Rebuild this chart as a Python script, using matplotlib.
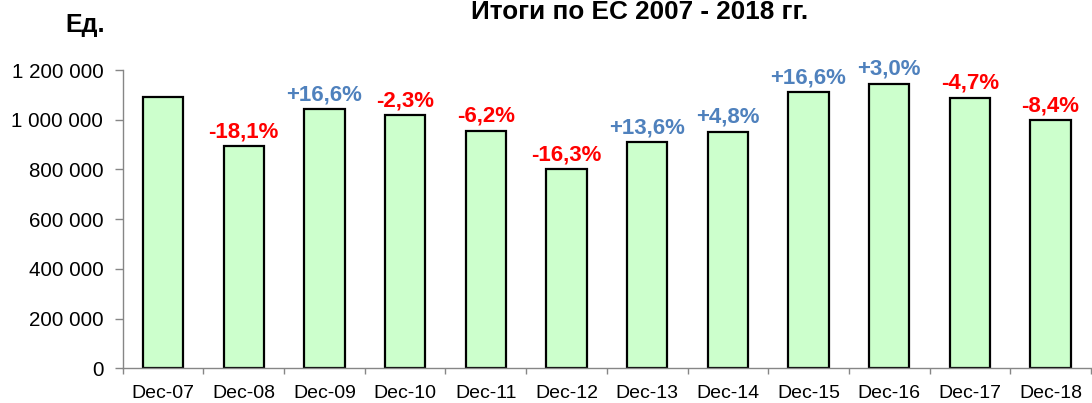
import matplotlib
matplotlib.use("Agg")
import matplotlib.pyplot as plt
from matplotlib.ticker import FuncFormatter, MultipleLocator

plt.rcParams['font.family'] = ['Liberation Sans', 'DejaVu Sans']

# data
categories = ['Dec-07', 'Dec-08', 'Dec-09', 'Dec-10', 'Dec-11', 'Dec-12',
              'Dec-13', 'Dec-14', 'Dec-15', 'Dec-16', 'Dec-17', 'Dec-18']
units = [1090000, 894000, 1042000, 1017000, 956000, 800000,
         909000, 952000, 1111000, 1144000, 1089000, 997000]
change_pct = [None, -18.1, 16.6, -2.3, -6.2, -16.3,
              13.6, 4.8, 16.6, 3.0, -4.7, -8.4]

title = 'Итоги по ЕС 2007 - 2018 гг.'
unit_label = 'Ед.'

UP_COLOR = '#4F81BD'
DOWN_COLOR = '#FF0000'
AXIS_COLOR = '#868686'

fig = plt.figure(figsize=(10.92, 4.03), dpi=100)
ax = fig.add_axes([0.1124, 0.0861, 0.999 - 0.1124, 0.8263 - 0.0861])

x = list(range(len(categories)))
bars = ax.bar(x, units, width=0.5, color='#CCFFCC', edgecolor='black',
              linewidth=1.6, zorder=2)

# percent change labels above bars
for rect, pct in zip(bars, change_pct):
    if pct is None:
        continue
    txt = ('+' if pct > 0 else '') + f'{pct:.1f}'.replace('.', ',') + '%'
    ax.annotate(txt, (rect.get_x() + rect.get_width() / 2, rect.get_height()),
                xytext=(0, 6.5), textcoords='offset points',
                ha='center', va='baseline', fontsize=16, fontweight='bold',
                color=UP_COLOR if pct > 0 else DOWN_COLOR, annotation_clip=False)

ax.set_xlim(-0.5, len(categories) - 0.5)
ax.set_ylim(0, 1200000)

ax.yaxis.set_major_locator(MultipleLocator(200000))
ax.yaxis.set_major_formatter(FuncFormatter(lambda v, p: f'{int(v):,}'.replace(',', ' ')))

ax.set_xticks(x)
ax.set_xticklabels(categories)
ax.set_xticks([i + 0.5 for i in range(-1, len(categories))], minor=True)

ax.tick_params(axis='x', which='major', length=0, pad=12, labelsize=14)
ax.tick_params(axis='x', which='minor', length=4, width=1, color=AXIS_COLOR, direction='out')
ax.tick_params(axis='y', length=6, width=1, color=AXIS_COLOR, pad=8, labelsize=14.8)

for side in ['top', 'right']:
    ax.spines[side].set_visible(False)
for side in ['left', 'bottom']:
    ax.spines[side].set_color(AXIS_COLOR)
    ax.spines[side].set_linewidth(1)

# title sits right at the top edge, as in the reference
fig.text(0.5854, 1 - 19 / 403, title, ha='center', va='baseline',
         fontsize=18.8, fontweight='bold')
fig.text(65 / 1092, 1 - 31.7 / 403, unit_label, ha='left', va='baseline',
         fontsize=18, fontweight='bold')

fig.savefig('out.png', dpi=100)
